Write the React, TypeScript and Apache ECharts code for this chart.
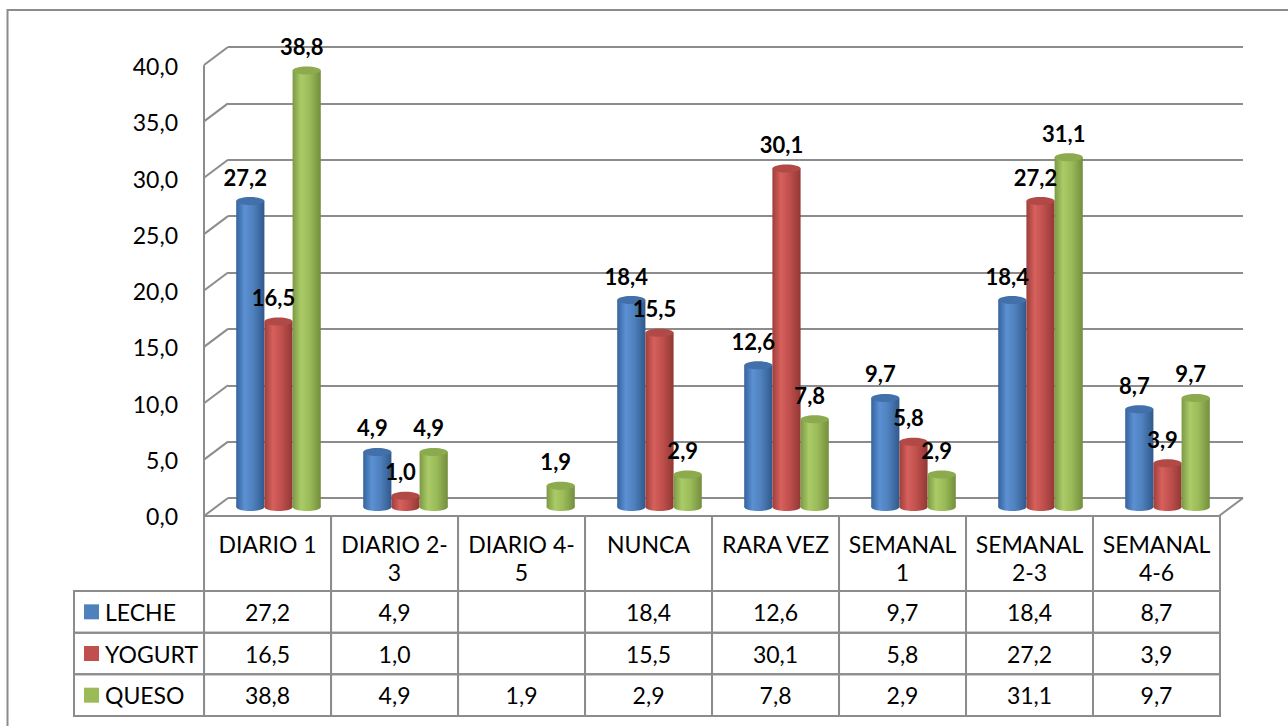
import React, { useEffect, useRef } from "react";
import * as echarts from "echarts";

// ---------- data ----------
const categories = ["DIARIO 1", "DIARIO 2-3", "DIARIO 4-5", "NUNCA", "RARA VEZ", "SEMANAL 1", "SEMANAL 2-3", "SEMANAL 4-6"];
const headerLabels = ["DIARIO 1", "DIARIO 2-\n3", "DIARIO 4-\n5", "NUNCA", "RARA VEZ", "SEMANAL\n1", "SEMANAL\n2-3", "SEMANAL\n4-6"];
const seriesNames = ["LECHE", "YOGURT", "QUESO"];
const leche: (number | null)[] = [27.2, 4.9, null, 18.4, 12.6, 9.7, 18.4, 8.7];
const yogurt: (number | null)[] = [16.5, 1.0, null, 15.5, 30.1, 5.8, 27.2, 3.9];
const queso: (number | null)[] = [38.8, 4.9, 1.9, 2.9, 7.8, 2.9, 31.1, 9.7];
const yTicks = [0, 5, 10, 15, 20, 25, 30, 35, 40];
const Y_MIN = 0;
const Y_MAX = 40;
const Y_STEP = 5;

// ---------- styles ----------
const FONT = "Lato, 'Open Sans', sans-serif";
const FONT_SIZE = 23;
const LABEL_SIZE = 22;
const GRID_COLOR = "#8c8c8c";
const DEPTH_X = 24;
const DEPTH_Y = 18;
const palettes = [
  { base: "#4F81BD", stops: ["#35639d", "#5b90d3", "#4f81bd", "#30598c"], top: "#4270aa" },
  { base: "#C0504D", stops: ["#9e3e3b", "#d6605c", "#c0504d", "#923835"], top: "#b14946" },
  { base: "#9BBB59", stops: ["#7c9943", "#abcb69", "#9bbb59", "#738e3d"], top: "#8bab4e" },
];
const seriesValues = [leche, yogurt, queso];

const fmt = (v: number) => v.toFixed(1).replace(".", ",");

// table layout (in table-grid units)
const ROW_EDGES = [0, 1.8, 2.8, 3.8, 4.8];
const LEGEND_LEFT = -1.024;

type Cell = { x0: number; x1: number; y0: number; y1: number; text: string; kind: string; color?: string };
const cells: Cell[] = [];
headerLabels.forEach((t, i) => cells.push({ x0: i, x1: i + 1, y0: ROW_EDGES[0], y1: ROW_EDGES[1], text: t, kind: "header" }));
seriesValues.forEach((vals, r) => {
  cells.push({ x0: LEGEND_LEFT, x1: 0, y0: ROW_EDGES[r + 1], y1: ROW_EDGES[r + 2], text: seriesNames[r], kind: "legend", color: palettes[r].base });
  vals.forEach((v, i) =>
    cells.push({ x0: i, x1: i + 1, y0: ROW_EDGES[r + 1], y1: ROW_EDGES[r + 2], text: v == null ? "" : fmt(v), kind: "value" })
  );
});

function gradientFor(idx: number) {
  const s = palettes[idx].stops;
  return new echarts.graphic.LinearGradient(0, 0, 1, 0, [
    { offset: 0, color: s[0] },
    { offset: 0.3, color: s[1] },
    { offset: 0.6, color: s[2] },
    { offset: 1, color: s[3] },
  ]);
}

function cylinderRenderer(idx: number) {
  return (params: any, api: any) => {
    const v = api.value(1);
    if (v == null || isNaN(v)) return null;
    const cat = api.value(0);
    const top = api.coord([cat, v]);
    const base = api.coord([cat, 0]);
    const band = api.size([1, 0])[0];
    const w = band * 0.222;
    const cx = top[0] + (idx - 1) * w;
    const rx = w / 2;
    const ry = 4;
    return {
      type: "group",
      children: [
        { type: "ellipse", shape: { cx, cy: base[1], rx, ry }, style: { fill: gradientFor(idx) } },
        { type: "rect", shape: { x: cx - rx, y: top[1], width: w, height: base[1] - top[1] }, style: { fill: gradientFor(idx) } },
        { type: "ellipse", shape: { cx, cy: top[1], rx, ry }, style: { fill: palettes[idx].top } },
      ],
    };
  };
}

function labelRenderer(idx: number) {
  return (params: any, api: any) => {
    const v = api.value(1);
    if (v == null || isNaN(v)) return null;
    const cat = api.value(0);
    const top = api.coord([cat, v]);
    const band = api.size([1, 0])[0];
    const w = band * 0.222;
    const cx = top[0] + (idx - 1) * w;
    return {
      type: "text",
      x: cx - 5,
      y: top[1] - 24,
      style: {
        text: fmt(v),
        fill: "#000",
        font: `bold ${LABEL_SIZE}px ${FONT}`,
        align: "center",
        verticalAlign: "middle",
      },
    };
  };
}

export default function App() {
  const ref = useRef<HTMLDivElement>(null);
  useEffect(() => {
    if (!ref.current) return;
    const chart = echarts.init(ref.current, null, { renderer: "svg" });
    const option: any = {
      animation: false,
      backgroundColor: "#fff",
      textStyle: { fontFamily: FONT },
      graphic: [
        {
          type: "rect",
          shape: { x: 7.5, y: 10, width: 1500, height: 900 },
          style: { fill: "none", stroke: GRID_COLOR, lineWidth: 2 },
          silent: true,
        },
      ],
      grid: [
        // front wall / labels
        { left: 204, right: 68, top: 66, bottom: 210 },
        // back wall
        { left: 228, right: 45, top: 47, bottom: 228 },
        // bars (mid depth)
        { left: 215, right: 57, top: 57, bottom: 219 },
        // table
        { left: 74, right: 68, top: 516, bottom: 10 },
      ],
      xAxis: [
        {
          gridIndex: 0,
          type: "category",
          data: categories,
          axisLine: { show: true, lineStyle: { color: GRID_COLOR, width: 2 } },
          axisTick: { show: false },
          axisLabel: { show: false },
        },
        { gridIndex: 1, type: "value", min: 0, max: 8, show: false },
        { gridIndex: 2, type: "category", data: categories, show: false },
        { gridIndex: 3, type: "value", min: LEGEND_LEFT, max: 8, show: false },
      ],
      yAxis: [
        {
          gridIndex: 0,
          type: "value",
          min: Y_MIN,
          max: Y_MAX,
          interval: Y_STEP,
          axisLine: { show: true, lineStyle: { color: GRID_COLOR, width: 2 } },
          axisTick: { show: false },
          splitLine: { show: false },
          axisLabel: {
            color: "#000",
            fontSize: FONT_SIZE,
            fontFamily: FONT,
            margin: 26,
            formatter: (v: number) => fmt(v),
          },
        },
        {
          gridIndex: 1,
          type: "value",
          min: Y_MIN,
          max: Y_MAX,
          interval: Y_STEP,
          axisLine: { show: false },
          axisTick: { show: false },
          axisLabel: { show: false },
          splitLine: { show: true, lineStyle: { color: GRID_COLOR, width: 2 } },
        },
        { gridIndex: 2, type: "value", min: Y_MIN, max: Y_MAX, show: false },
        { gridIndex: 3, type: "value", min: 0, max: ROW_EDGES[ROW_EDGES.length - 1], inverse: true, show: false },
      ],
      series: [
        // wall diagonals + floor right edge
        {
          type: "custom",
          xAxisIndex: 1,
          yAxisIndex: 1,
          data: [...yTicks.map((v) => [0, v]), [8, 0]],
          encode: { x: 0, y: 1 },
          silent: true,
          renderItem: (params: any, api: any) => {
            const p = api.coord([api.value(0), api.value(1)]);
            return {
              type: "line",
              shape: { x1: p[0] - DEPTH_X, y1: p[1] + DEPTH_Y, x2: p[0], y2: p[1] },
              style: { stroke: GRID_COLOR, lineWidth: 2 },
            };
          },
        },
        ...seriesValues.map((vals, idx) => ({
          type: "custom",
          name: seriesNames[idx],
          xAxisIndex: 2,
          yAxisIndex: 2,
          z: 3,
          data: vals.map((v, i) => [i, v == null ? NaN : v]),
          encode: { x: 0, y: 1 },
          renderItem: cylinderRenderer(idx),
        })),
        ...seriesValues.map((vals, idx) => ({
          type: "custom",
          name: seriesNames[idx] + "-labels",
          xAxisIndex: 2,
          yAxisIndex: 2,
          z: 10,
          data: vals.map((v, i) => [i, v == null ? NaN : v]),
          encode: { x: 0, y: 1 },
          renderItem: labelRenderer(idx),
        })),
        // data table
        {
          type: "custom",
          xAxisIndex: 3,
          yAxisIndex: 3,
          z: 4,
          silent: true,
          data: cells.map((c) => [c.x0, c.y0, c.x1, c.y1]),
          encode: { x: [0, 2], y: [1, 3] },
          renderItem: (params: any, api: any) => {
            const c = cells[params.dataIndex];
            const p0 = api.coord([c.x0, c.y0]);
            const p1 = api.coord([c.x1, c.y1]);
            const x = Math.min(p0[0], p1[0]);
            const y = Math.min(p0[1], p1[1]);
            const w = Math.abs(p1[0] - p0[0]);
            const h = Math.abs(p1[1] - p0[1]);
            const children: any[] = [
              { type: "rect", shape: { x, y, width: w, height: h }, style: { fill: "none", stroke: GRID_COLOR, lineWidth: 2 } },
            ];
            const font = `${FONT_SIZE}px ${FONT}`;
            if (c.kind === "header") {
              children.push({
                type: "text",
                x: x + w / 2,
                y: y + 14,
                style: { text: c.text, fill: "#000", font, align: "center", verticalAlign: "top", lineHeight: 28 },
              });
            } else if (c.kind === "value") {
              children.push({
                type: "text",
                x: x + w / 2,
                y: y + h / 2,
                style: { text: c.text, fill: "#000", font, align: "center", verticalAlign: "middle" },
              });
            } else {
              children.push({
                type: "rect",
                shape: { x: x + 10, y: y + h / 2 - 7.5, width: 15, height: 15 },
                style: { fill: c.color },
              });
              children.push({
                type: "text",
                x: x + 31,
                y: y + h / 2,
                style: { text: c.text, fill: "#000", font, align: "left", verticalAlign: "middle" },
              });
            }
            return { type: "group", children };
          },
        },
      ],
    };
    chart.setOption(option);
    return () => chart.dispose();
  }, []);
  return (
    <div
      ref={ref}
      style={{ position: "fixed", left: 0, top: 0, width: 1288, height: 726 }}
    />
  );
}
